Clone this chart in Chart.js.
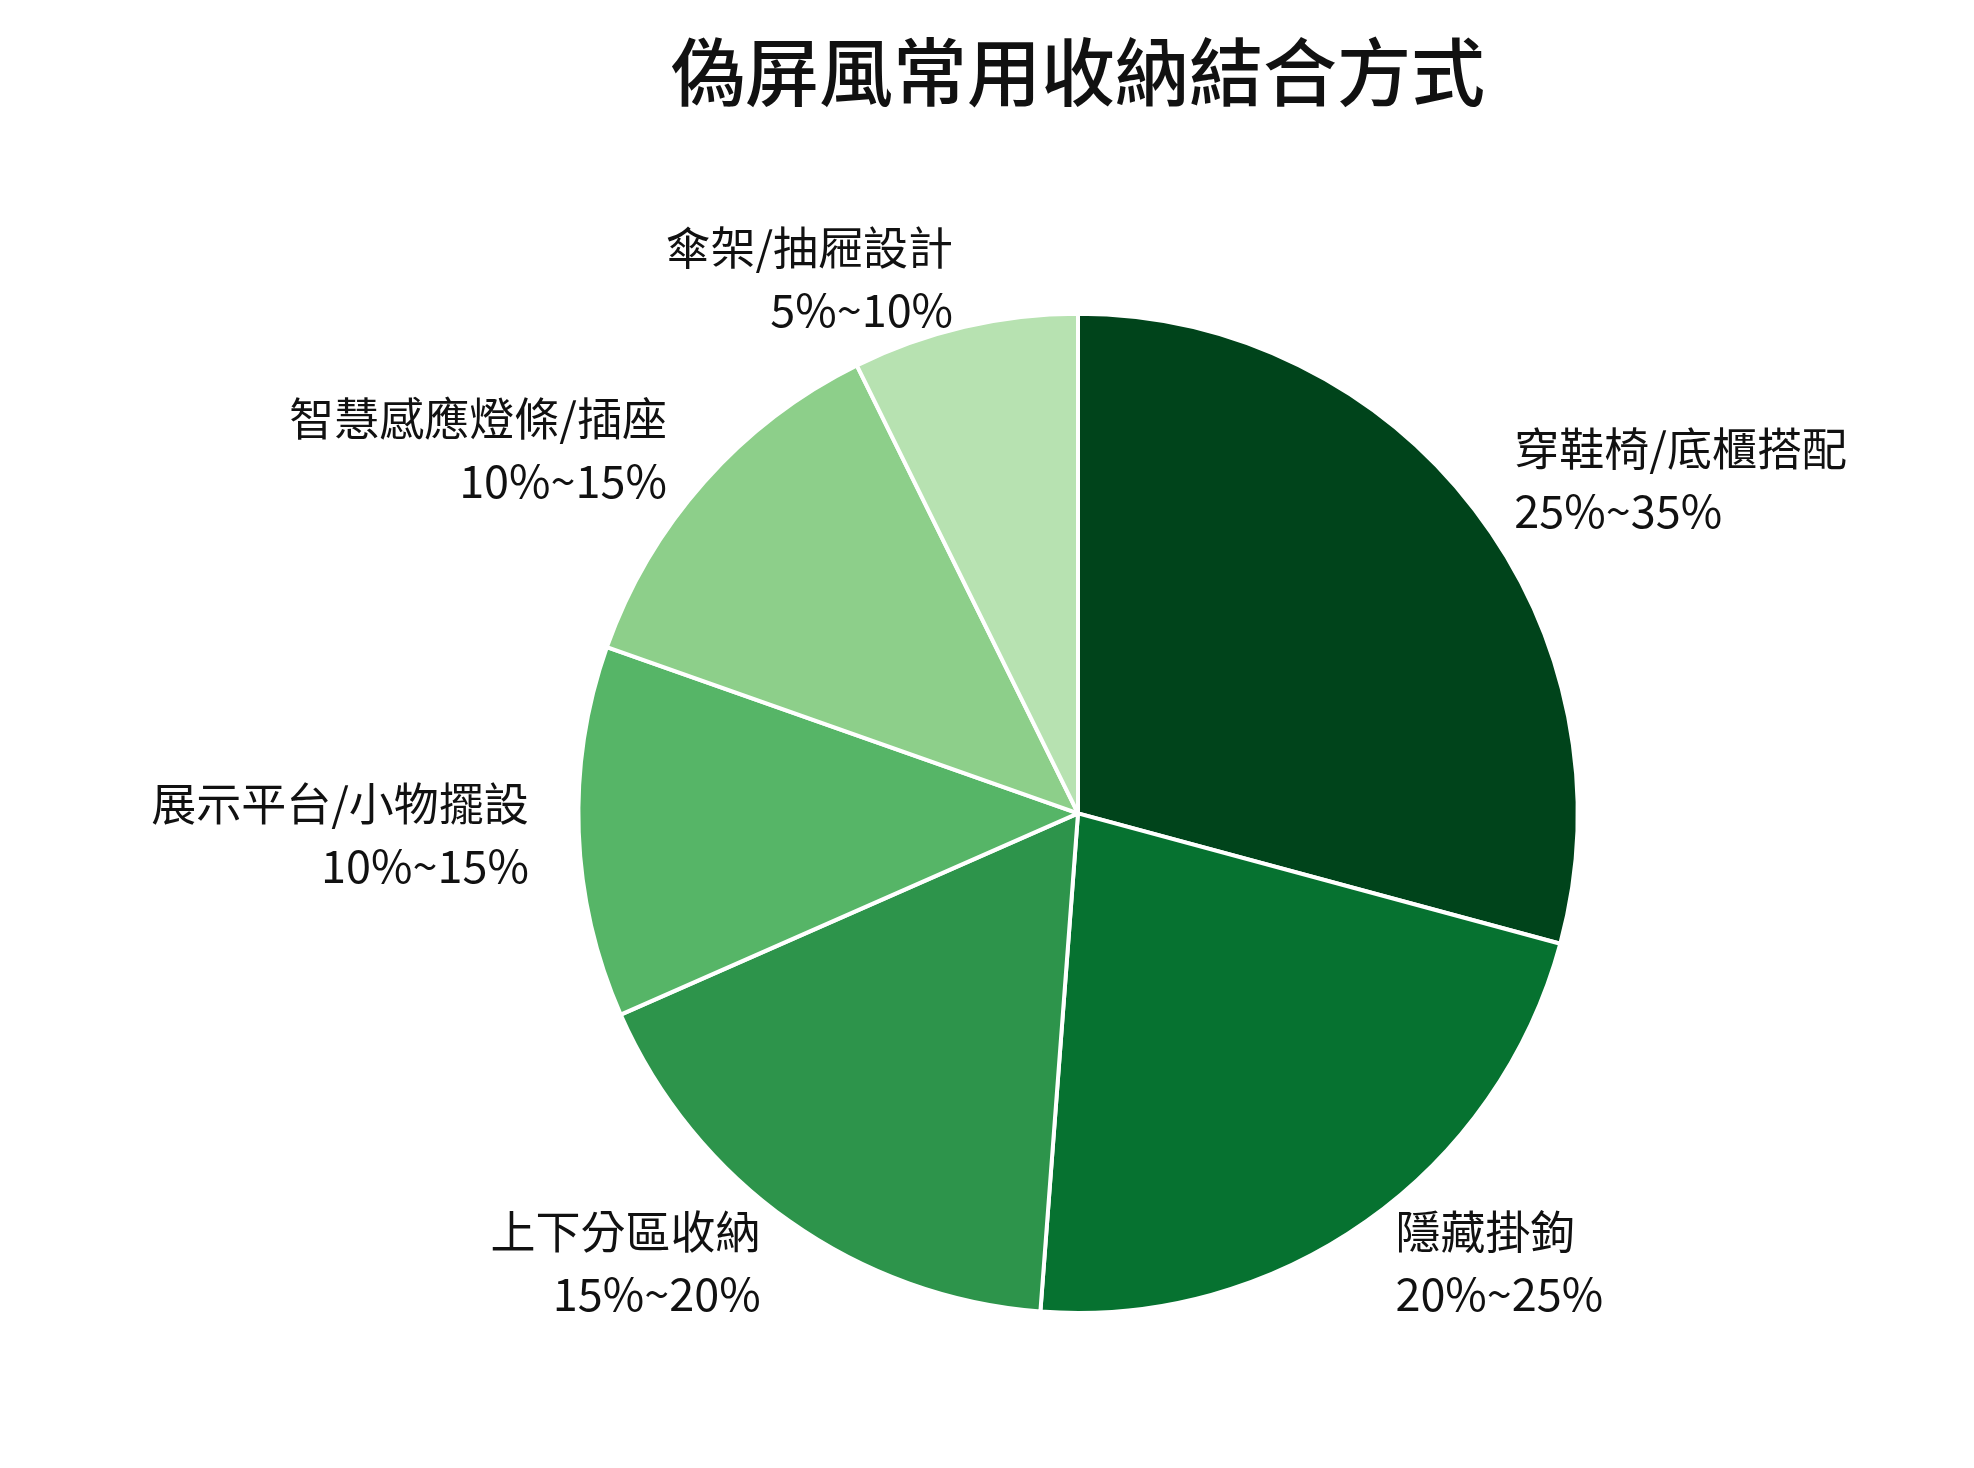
<!DOCTYPE html>
<html><head><meta charset="utf-8">
<script src="https://cdn.jsdelivr.net/npm/chart.js@4"></script>
<style>html,body{margin:0;background:#fff}#w{width:1974px;height:1468px}</style>
</head><body><div id="w"><canvas id="c"></canvas></div>
<script>
const title = '偽屏風常用收納結合方式';
const categories = ['穿鞋椅/底櫃搭配','隱藏掛鉤','上下分區收納','展示平台/小物擺設','智慧感應燈條/插座','傘架/抽屜設計'];
const ranges = ['25%~35%','20%~25%','15%~20%','10%~15%','10%~15%','5%~10%'];
const values = [29.2, 22, 17.2, 12, 12.3, 7.3];
const colors = ['#00441b','#067230','#2d944b','#56b567','#8dcf8a','#b7e2b1'];
const FONT = '"Noto Sans CJK TC","Noto Sans",sans-serif';
const labelPlugin = {
  id:'outLabels',
  afterDatasetsDraw(chart){
    const ctx = chart.ctx;
    chart.getDatasetMeta(0).data.forEach((arc,i)=>{
      const mid = (arc.startAngle+arc.endAngle)/2;
      const r = arc.outerRadius*1.1;
      const x = arc.x + Math.cos(mid)*r, y = arc.y + Math.sin(mid)*r;
      ctx.save();
      ctx.font = '45px '+FONT;
      ctx.fillStyle = '#111';
      ctx.textAlign = x < arc.x ? 'right' : 'left';
      ctx.textBaseline = 'middle';
      ctx.fillText(categories[i], x, y-30);
      ctx.fillText(ranges[i], x, y+32);
      ctx.restore();
    });
  }
};
new Chart(document.getElementById('c'),{
  type:'pie',
  data:{labels:categories,datasets:[{data:values,backgroundColor:colors,borderColor:'#fff',borderWidth:4}]},
  options:{
    responsive:true,maintainAspectRatio:false,animation:false,
    layout:{padding:{left:182,right:0,bottom:153}},
    plugins:{
      legend:{display:false},tooltip:{enabled:false},
      title:{display:true,text:title,color:'#111',font:{family:FONT,size:74,weight:'500'},padding:{top:27,bottom:196}}
    }
  },
  plugins:[labelPlugin]
});
</script></body></html>
